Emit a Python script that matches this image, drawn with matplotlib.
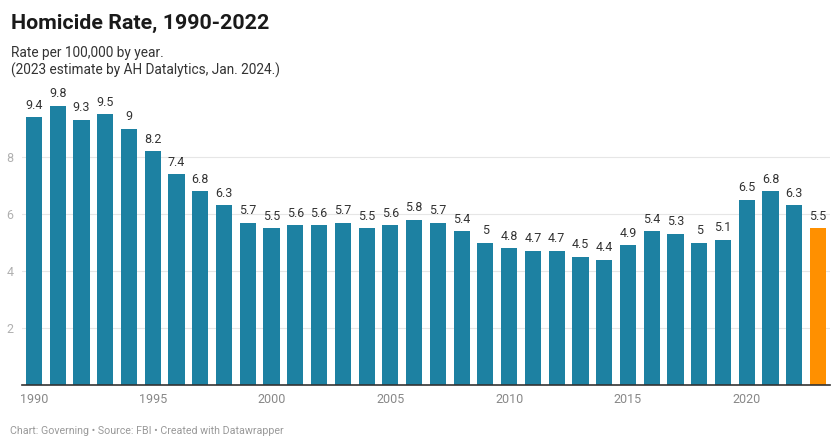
import matplotlib
matplotlib.use("Agg")
import matplotlib.pyplot as plt

years = list(range(1990, 2024))
rates = [9.4, 9.8, 9.3, 9.5, 9, 8.2, 7.4, 6.8, 6.3, 5.7, 5.5, 5.6, 5.6, 5.7, 5.5, 5.6,
         5.8, 5.7, 5.4, 5, 4.8, 4.7, 4.7, 4.5, 4.4, 4.9, 5.4, 5.3, 5, 5.1, 6.5, 6.8, 6.3, 5.5]
labels = ["9.4", "9.8", "9.3", "9.5", "9", "8.2", "7.4", "6.8", "6.3", "5.7", "5.5", "5.6",
          "5.6", "5.7", "5.5", "5.6", "5.8", "5.7", "5.4", "5", "4.8", "4.7", "4.7", "4.5",
          "4.4", "4.9", "5.4", "5.3", "5", "5.1", "6.5", "6.8", "6.3", "5.5"]
xticks = [1990, 1995, 2000, 2005, 2010, 2015, 2020]
yticks = [2, 4, 6, 8]

plt.rcParams['font.family'] = ['Roboto', 'DejaVu Sans']

W, H = 840, 447
fig = plt.figure(figsize=(W / 100, H / 100), dpi=100)
ax_left, ax_right, ax_bottom, ax_top = 22, 830, 385, 100
ax = fig.add_axes([ax_left / W, 1 - ax_bottom / H, (ax_right - ax_left) / W, (ax_bottom - ax_top) / H])

colors = ['#1d81a2'] * (len(years) - 1) + ['#ff9000']
ax.bar(years, rates, width=0.68, color=colors, zorder=3)
for x, v, lab in zip(years, rates, labels):
    ax.annotate(lab, (x, v), xytext=(0, 4), textcoords='offset points',
                ha='center', va='bottom', fontsize=9, color='#333333', zorder=4)

ax.set_xlim(1990 - 0.505, 2023 + 0.505)
ax.set_ylim(0, 10)
for s in ['top', 'right', 'left']:
    ax.spines[s].set_visible(False)
ax.spines['bottom'].set_color('#333333')
ax.spines['bottom'].set_linewidth(1.2)
ax.spines['bottom'].set_zorder(5)

ax.set_yticks(yticks)
ax.set_yticklabels([str(t) for t in yticks])
ax.tick_params(axis='y', length=0, pad=6, labelsize=9, labelcolor='#b0b0b0')
ax.yaxis.grid(True, color='#e6e6e6', linewidth=0.8, zorder=0)
ax.set_xticks(xticks)
ax.set_xticklabels([str(t) for t in xticks])
ax.tick_params(axis='x', length=0, pad=6, labelsize=9, labelcolor='#888888')

fig.text(11 / W, 1 - 29 / H, "Homicide Rate, 1990-2022", fontsize=15.4, fontweight='bold',
         color='#1a1a1a', ha='left', va='baseline')
fig.text(11 / W, 1 - 57 / H, "Rate per 100,000 by year.", fontsize=9.8, color='#333333',
         ha='left', va='baseline')
fig.text(11 / W, 1 - 75 / H, "(2023 estimate by AH Datalytics, Jan. 2024.)", fontsize=9.8,
         color='#333333', ha='left', va='baseline')
fig.text(10 / W, 1 - 434 / H, "Chart: Governing • Source: FBI • Created with Datawrapper",
         fontsize=7.7, color='#999999', ha='left', va='baseline')

fig.savefig('out.png', dpi=100)
